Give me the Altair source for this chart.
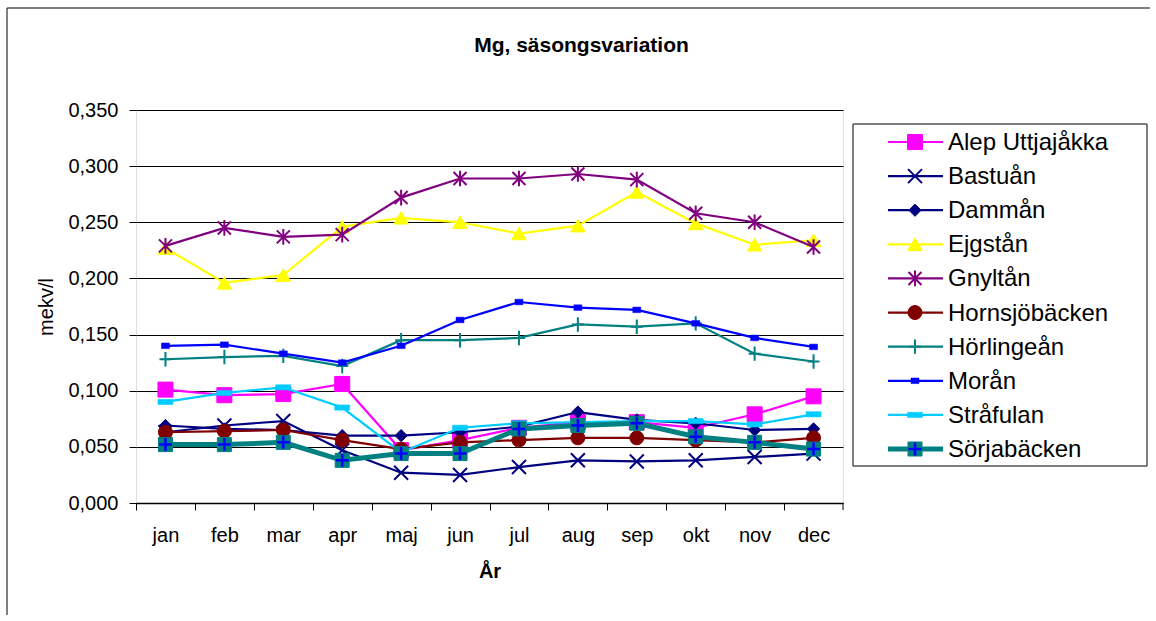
import altair as alt
import pandas as pd

# ---------------- data ----------------
months = ["jan", "feb", "mar", "apr", "maj", "jun", "jul", "aug", "sep", "okt", "nov", "dec"]
series_names = ["Alep Uttjajåkka", "Bastuån", "Dammån", "Ejgstån", "Gnyltån",
                "Hornsjöbäcken", "Hörlingeån", "Morån", "Stråfulan", "Sörjabäcken"]

alep = [0.101, 0.096, 0.097, 0.106, 0.047, 0.056, 0.067, 0.072, 0.072, 0.067, 0.079, 0.095]
bastuan = [0.063, 0.069, 0.073, 0.047, 0.027, 0.025, 0.032, 0.038, 0.037, 0.038, 0.041, 0.044]
damman = [0.069, 0.066, 0.065, 0.060, 0.060, 0.063, 0.068, 0.081, 0.074, 0.071, 0.065, 0.066]
ejgstan = [0.227, 0.196, 0.203, 0.246, 0.254, 0.250, 0.240, 0.247, 0.277, 0.249, 0.230, 0.234]
gnyltan = [0.229, 0.245, 0.237, 0.239, 0.272, 0.289, 0.289, 0.293, 0.288, 0.258, 0.250, 0.228]
hornsjobacken = [0.063, 0.064, 0.065, 0.056, 0.048, 0.054, 0.056, 0.058, 0.058, 0.056, 0.054, 0.058]
horlingean = [0.128, 0.130, 0.131, 0.122, 0.145, 0.145, 0.147, 0.159, 0.157, 0.160, 0.133, 0.126]
moran = [0.140, 0.141, 0.133, 0.125, 0.140, 0.163, 0.179, 0.174, 0.172, 0.160, 0.147, 0.139]
strafulan = [0.090, 0.098, 0.103, 0.085, 0.045, 0.067, 0.071, 0.072, 0.073, 0.073, 0.070, 0.079]
sorjabacken = [0.052, 0.052, 0.054, 0.038, 0.044, 0.044, 0.066, 0.069, 0.071, 0.059, 0.054, 0.048]

series_values = [alep, bastuan, damman, ejgstan, gnyltan,
                 hornsjobacken, horlingean, moran, strafulan, sorjabacken]

y_ticks = [0.0, 0.05, 0.10, 0.15, 0.20, 0.25, 0.30, 0.35]

title_text = "Mg, säsongsvariation"
y_title = "mekv/l"
x_title = "År"

# ---------------- styles ----------------
X_PATH = "M-1,-1L1,1M-1,1L1,-1"
STAR_PATH = "M-1,-1L1,1M-1,1L1,-1M0,-1.2L0,1.2"
PLUS_PATH = "M-1,0L1,0M0,-1.2L0,1.2"
PLUS_SQ = "M-1,0L1,0M0,-1L0,1"
SMALL_RECT = "M-1,-0.7L1,-0.7L1,0.7L-1,0.7Z"
DASH_RECT = "M-1,-0.35L1,-0.35L1,0.35L-1,0.35Z"

styles = [
    dict(line="#FF00FF", lw=2.2, shape="square", size=225, filled=True, mc="#FF00FF", sw=1),
    dict(line="#000080", lw=2.2, shape=X_PATH, size=196, filled=False, mc="#000080", sw=2),
    dict(line="#000080", lw=2.2, shape="diamond", size=150, filled=True, mc="#000080", sw=1),
    dict(line="#FFFF00", lw=2.2, shape="triangle-up", size=210, filled=True, mc="#FFFF00", sw=1),
    dict(line="#800080", lw=2.2, shape=STAR_PATH, size=170, filled=False, mc="#800080", sw=2),
    dict(line="#800000", lw=2.2, shape="circle", size=196, filled=True, mc="#800000", sw=1),
    dict(line="#008080", lw=2.2, shape=PLUS_PATH, size=144, filled=False, mc="#008080", sw=2),
    dict(line="#0000FF", lw=2.2, shape=SMALL_RECT, size=64, filled=True, mc="#0000FF", sw=0.5),
    dict(line="#00CCFF", lw=2.2, shape=DASH_RECT, size=225, filled=True, mc="#00CCFF", sw=0.5),
    dict(line="#008080", lw=5, shape="square", size=196, filled=True, mc="#008080", sw=1,
         overlay=dict(shape=PLUS_SQ, size=169, color="#0000FF", sw=2.5)),
]

FONT = "Liberation Sans"
W, H = 707, 393
STEP = W / len(months)

rows = []
for n, vals in zip(series_names, series_values):
    for m, v in zip(months, vals):
        rows.append({"month": m, "series": n, "value": v})
df = pd.DataFrame(rows)

x_enc = alt.X(
    "month:N",
    scale=alt.Scale(type="point", domain=months, padding=0.5),
    axis=alt.Axis(
        title=x_title, titleFontWeight="bold", titleFontSize=20, titleFont=FONT,
        titleX=W / 2, titleY=74, titleBaseline="alphabetic", titleAlign="center",
        labelFontSize=20, labelFont=FONT, labelColor="black", labelAngle=0,
        labelBaseline="alphabetic", labelPadding=31,
        tickSize=7, tickColor="black", tickWidth=1,
        tickOffset=-STEP / 2, labelOffset=STEP / 2,
        domainColor="black", domainWidth=1.5, grid=False,
    ),
)
y_enc = alt.Y(
    "value:Q",
    scale=alt.Scale(domain=[0, 0.35], nice=False, zero=True),
    axis=alt.Axis(
        title=y_title, titleFontWeight="normal", titleFontSize=20, titleFont=FONT,
        titleX=-84, titleY=H / 2, titleBaseline="alphabetic", titleAlign="center", titleAngle=270,
        values=y_ticks,
        labelExpr="replace(format(datum.value, '.3f'), '.', ',')",
        labelFontSize=20, labelFont=FONT, labelColor="black", labelBaseline="middle",
        labelPadding=11, tickSize=7, tickColor="black", tickWidth=1,
        domain=False, grid=True, gridColor="black", gridWidth=1,
    ),
)

data_layers = []
for n, st in zip(series_names, styles):
    base = alt.Chart(df).transform_filter(alt.datum.series == n)
    data_layers.append(
        base.mark_line(color=st["line"], strokeWidth=st["lw"]).encode(x=x_enc, y=y_enc)
    )
    if st["filled"]:
        pt = base.mark_point(shape=st["shape"], size=st["size"], filled=True, fill=st["mc"],
                             stroke=st["mc"], strokeWidth=st["sw"], opacity=1)
    else:
        pt = base.mark_point(shape=st["shape"], size=st["size"], filled=False,
                             stroke=st["mc"], strokeWidth=st["sw"], opacity=1)
    data_layers.append(pt.encode(x=x_enc, y=y_enc))
    if "overlay" in st:
        ov = st["overlay"]
        data_layers.append(
            base.mark_point(shape=ov["shape"], size=ov["size"], filled=False,
                            stroke=ov["color"], strokeWidth=ov["sw"], opacity=1)
            .encode(x=x_enc, y=y_enc)
        )
data_layer = alt.layer(*data_layers)

# ---------------- legend (drawn from series list) ----------------
leg_y = alt.Y("name:N", scale=alt.Scale(type="point", domain=series_names, range=[32, 339], padding=0),
              axis=None)
one = pd.DataFrame({"a": [0]})
legend_layers = [
    alt.Chart(one).mark_rect(fill="white", stroke="black", strokeWidth=1)
    .encode(x=alt.value(717), x2=alt.value(1011), y=alt.value(14), y2=alt.value(356))
]
for n, st in zip(series_names, styles):
    d = pd.DataFrame({"name": [n]})
    legend_layers.append(
        alt.Chart(d).mark_rule(color=st["line"], strokeWidth=st["lw"] if st["lw"] < 4 else 5)
        .encode(x=alt.value(752), x2=alt.value(807), y=leg_y)
    )
    if st["filled"]:
        lp = alt.Chart(d).mark_point(shape=st["shape"], size=st["size"], filled=True, fill=st["mc"],
                                     stroke=st["mc"], strokeWidth=st["sw"], opacity=1)
    else:
        lp = alt.Chart(d).mark_point(shape=st["shape"], size=st["size"], filled=False,
                                     stroke=st["mc"], strokeWidth=st["sw"], opacity=1)
    legend_layers.append(lp.encode(x=alt.value(779), y=leg_y))
    if "overlay" in st:
        ov = st["overlay"]
        legend_layers.append(
            alt.Chart(d).mark_point(shape=ov["shape"], size=ov["size"], filled=False,
                                    stroke=ov["color"], strokeWidth=ov["sw"], opacity=1)
            .encode(x=alt.value(779), y=leg_y)
        )
legend_layers.append(
    alt.Chart(pd.DataFrame({"name": series_names}))
    .mark_text(align="left", baseline="alphabetic", dy=8, fontSize=24, font=FONT, color="black")
    .encode(x=alt.value(812), y=leg_y, text="name:N")
)
legend_layer = alt.layer(*legend_layers)

# ---------------- decorations ----------------
frame_top = alt.Chart(one).mark_rule(color="black", strokeWidth=1).encode(
    x=alt.value(-129), x2=alt.value(1016), y=alt.value(-102))
frame_left = alt.Chart(one).mark_rule(color="black", strokeWidth=1).encode(
    x=alt.value(-129), y=alt.value(-102), y2=alt.value(505))
last_tick = alt.Chart(one).mark_rule(color="black", strokeWidth=1).encode(
    x=alt.value(W), y=alt.value(H), y2=alt.value(H + 7))
title_layer = alt.Chart(pd.DataFrame({"t": [title_text]})).mark_text(
    fontSize=21, fontWeight="bold", font=FONT, align="center", baseline="alphabetic", color="black"
).encode(x=alt.value(445.5), y=alt.value(-58), text="t:N")

chart = (
    alt.layer(frame_top, frame_left, title_layer, data_layer, last_tick, legend_layer)
    .resolve_scale(y="independent")
    .properties(
        width=W, height=H,
        autosize=alt.AutoSizeParams(type="none"),
        padding={"left": 136, "top": 110, "right": 1150 - 136 - W, "bottom": 615 - 110 - H},
    )
    .configure_view(fill="#C0C0C0", stroke="#808080", strokeWidth=2)
    .configure(font=FONT, background="white")
)

chart.save("out.html", embed_options={"renderer": "svg", "actions": False})
